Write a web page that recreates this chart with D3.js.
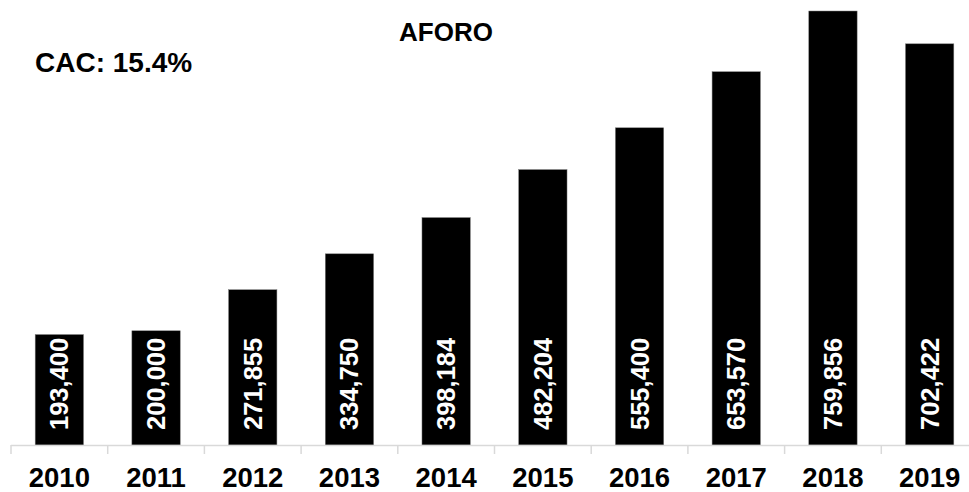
<!DOCTYPE html>
<html>
<head>
<meta charset="utf-8">
<script src="https://cdn.jsdelivr.net/npm/d3@7"></script>
<style>
  html, body { margin: 0; padding: 0; background: #fff; }
  svg { display: block; font-family: "Liberation Sans", Arial, sans-serif; }
</style>
</head>
<body>
<svg id="chart" width="969" height="492"></svg>
<script>
const years = ["2010","2011","2012","2013","2014","2015","2016","2017","2018","2019"];
const aforo = [193400, 200000, 271855, 334750, 398184, 482204, 555400, 653570, 759856, 702422];
const titleText = "AFORO";
const cacText = "CAC: 15.4%";

const svg = d3.select("#chart");
const W = 969, H = 492;
const baseY = 445;

const x = d3.scaleBand().domain(years).range([11, 11 + 96.7 * years.length]).paddingInner(0.5).paddingOuter(0.25);
const y = d3.scaleLinear().domain([0, 759856]).range([baseY, 11]);

// bars
svg.append("g").selectAll("rect").data(years).join("rect")
  .attr("x", d => x(d))
  .attr("width", x.bandwidth())
  .attr("y", (d, i) => y(aforo[i]))
  .attr("height", (d, i) => baseY - y(aforo[i]))
  .attr("fill", "#000")
  .attr("stroke", "#7f7f7f")
  .attr("stroke-width", 0.5);

// axis line and ticks
const step = x.step();
const axisG = svg.append("g");
axisG.append("line")
  .attr("x1", 11).attr("x2", W)
  .attr("y1", baseY + 0.5).attr("y2", baseY + 0.5)
  .attr("stroke", "#d9d9d9").attr("stroke-width", 1.5);
axisG.selectAll("line.tick").data(d3.range(years.length)).join("line")
  .attr("class", "tick")
  .attr("x1", i => 11 + i * step).attr("x2", i => 11 + i * step)
  .attr("y1", baseY).attr("y2", baseY + 9)
  .attr("stroke", "#d9d9d9").attr("stroke-width", 1.5);

// category labels
svg.append("g").selectAll("text").data(years).join("text")
  .attr("x", d => x(d) + x.bandwidth() / 2)
  .attr("y", 487)
  .attr("text-anchor", "middle")
  .attr("font-size", 27.5)
  .attr("font-weight", "bold")
  .attr("fill", "#000")
  .text(d => d);

// value labels
const fmt = d3.format(",");
svg.append("g").selectAll("text").data(years).join("text")
  .attr("transform", d => `translate(${x(d) + x.bandwidth() / 2 + 9},${baseY - 15}) rotate(-90)`)
  .attr("text-anchor", "start")
  .attr("font-size", 25.5)
  .attr("font-weight", "bold")
  .attr("fill", "#fff")
  .text((d, i) => fmt(aforo[i]));

// title
svg.append("text")
  .attr("x", 446).attr("y", 41)
  .attr("text-anchor", "middle")
  .attr("font-size", 26)
  .attr("font-weight", "bold")
  .text(titleText);

svg.append("text")
  .attr("x", 35).attr("y", 72)
  .attr("font-size", 28)
  .attr("font-weight", "bold")
  .text(cacText);
</script>
</body>
</html>
